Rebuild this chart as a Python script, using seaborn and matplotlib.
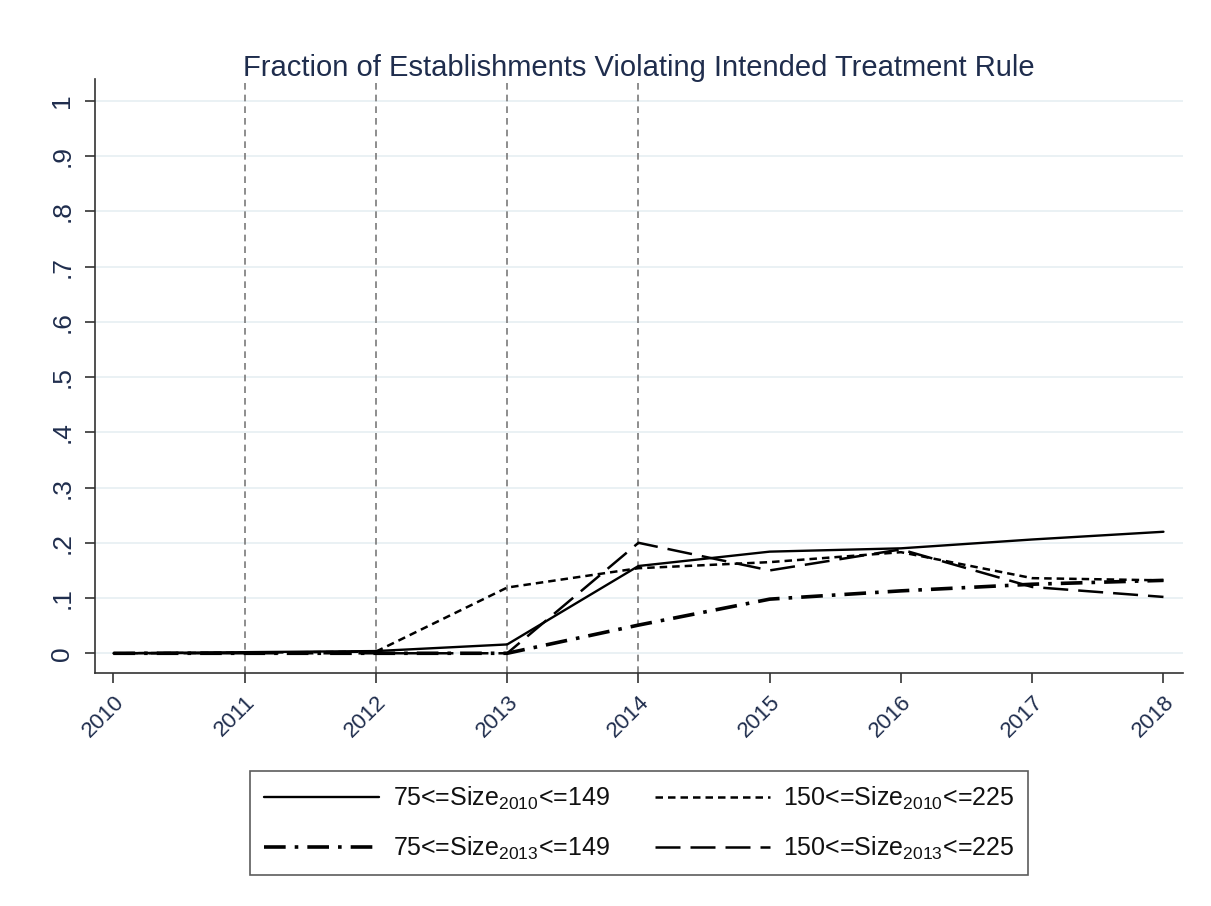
import pandas as pd
import numpy as np
import matplotlib
matplotlib.use('Agg')
import matplotlib.pyplot as plt
import seaborn as sns
from matplotlib.lines import Line2D

sns.set_style('white')
plt.rcParams['font.family'] = ['Liberation Sans', 'DejaVu Sans']
plt.rcParams['mathtext.fontset'] = 'custom'
plt.rcParams['mathtext.rm'] = 'Liberation Sans'
plt.rcParams['mathtext.default'] = 'regular'

# --- datos ---
years = [2010, 2011, 2012, 2013, 2014, 2015, 2016, 2017, 2018]
small_2010 = [0.0, 0.002, 0.004, 0.016, 0.158, 0.184, 0.190, 0.206, 0.220]
large_2010 = [0.0, 0.001, 0.003, 0.119, 0.154, 0.165, 0.183, 0.136, 0.132]
small_2013 = [0.0, 0.0, 0.0, 0.0, 0.051, 0.098, 0.113, 0.125, 0.132]
large_2013 = [0.0, 0.0, 0.0, 0.0, 0.200, 0.150, 0.188, 0.120, 0.102]

labels = ['75<=Size$_{2010}$<=149', '150<=Size$_{2010}$<=225',
          '75<=Size$_{2013}$<=149', '150<=Size$_{2013}$<=225']
vlines = [2011, 2012, 2013, 2014]
yticks = [0, 0.1, 0.2, 0.3, 0.4, 0.5, 0.6, 0.7, 0.8, 0.9, 1.0]
ytick_labels = ['0', '.1', '.2', '.3', '.4', '.5', '.6', '.7', '.8', '.9', '1']
title = 'Fraction of Establishments Violating Intended Treatment Rule'

df = pd.DataFrame({
    'year': years * 4,
    'value': small_2010 + large_2010 + small_2013 + large_2013,
    'group': np.repeat(labels, len(years)),
})

text_col = '#1f2d4d'
dashes = {
    labels[0]: '',
    labels[1]: (3, 2),
    labels[2]: (6, 2.5, 1, 2.5),
    labels[3]: (10, 4),
}
widths = {labels[0]: 1.7, labels[1]: 1.8, labels[2]: 2.6, labels[3]: 1.8}

fig = plt.figure(figsize=(12.11, 9.06), dpi=100)
ax = fig.add_axes([0.0785, 0.257, 0.8985, 0.656])

for y in yticks:
    ax.axhline(y, color='#e6eff2', lw=1.2, zorder=0)
for x in vlines:
    ax.axvline(x, color='#7a7a7a', lw=1.2, ls=(0, (4, 3)), zorder=1)

for lab in labels:
    sns.lineplot(data=df[df['group'] == lab], x='year', y='value', ax=ax,
                 color='black', lw=widths[lab], legend=False, zorder=3)
    if dashes[lab]:
        ax.lines[-1].set_dashes(dashes[lab])

ax.set_xlim(2009.86, 2018.15)
ax.set_ylim(-0.036, 1.04)
ax.set_xticks(years)
ax.set_xticklabels([str(y) for y in years], rotation=45, ha='right',
                   rotation_mode='anchor', fontsize=16, color=text_col)
ax.set_yticks(yticks)
ax.set_yticklabels(ytick_labels, rotation=90, va='center', fontsize=19,
                   color=text_col)
ax.tick_params(axis='both', length=7, width=1.2, color='#333333', direction='out',
               bottom=True, left=True)
ax.tick_params(axis='x', pad=6)
ax.tick_params(axis='y', pad=8)
ax.set_xlabel('')
ax.set_ylabel('')
for side in ['top', 'right']:
    ax.spines[side].set_visible(False)
for side in ['left', 'bottom']:
    ax.spines[side].set_color('#333333')
    ax.spines[side].set_linewidth(1.2)

ax.set_title(title, fontsize=21, color=text_col, pad=2)

# orden por filas: el legend de matplotlib rellena por columnas
order = [0, 2, 1, 3]
handles = []
for lab in labels:
    h = Line2D([0], [0], color='black', lw=widths[lab])
    if dashes[lab]:
        h.set_dashes(dashes[lab])
    handles.append(h)
leg = fig.legend([handles[i] for i in order], [labels[i] for i in order],
                 ncol=2, loc='center', bbox_to_anchor=(0.528, 0.0915),
                 fontsize=18, frameon=True, fancybox=False, edgecolor='#333333',
                 handlelength=4.6, columnspacing=1.8, labelspacing=0.9,
                 borderpad=0.55, borderaxespad=0, handletextpad=0.55)
leg.get_frame().set_linewidth(1.2)
for t in leg.get_texts():
    t.set_color('#111111')

fig.savefig('out.png', dpi=100, facecolor='white')
